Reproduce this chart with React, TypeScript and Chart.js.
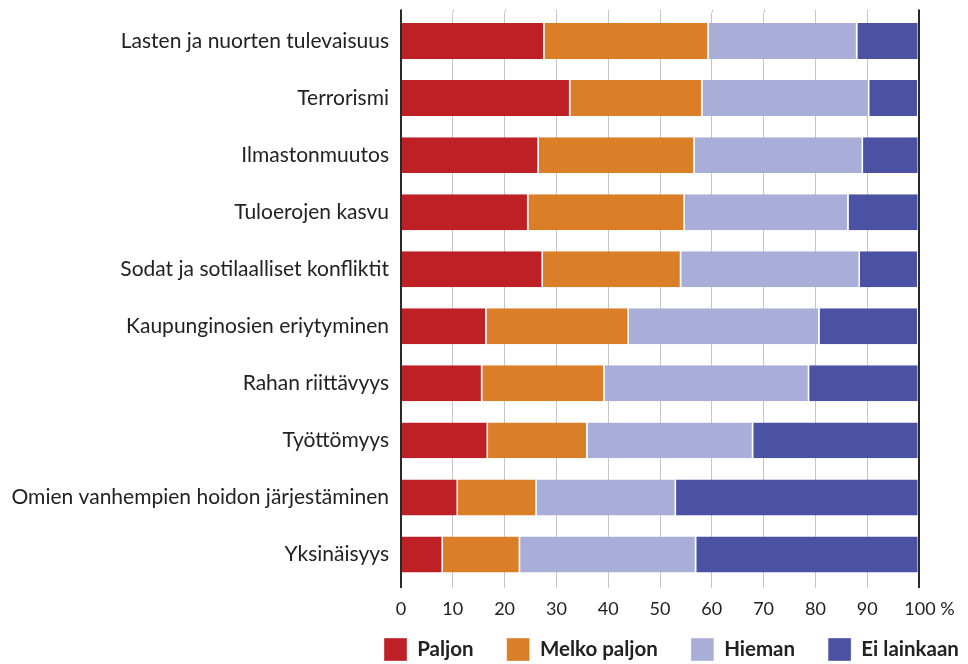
import { useEffect, useRef } from 'react';
import { Chart, registerables } from 'chart.js';

Chart.register(...registerables);

const categories = [
  'Lasten ja nuorten tulevaisuus',
  'Terrorismi',
  'Ilmastonmuutos',
  'Tuloerojen kasvu',
  'Sodat ja sotilaalliset konfliktit',
  'Kaupunginosien eriytyminen',
  'Rahan riittävyys',
  'Työttömyys',
  'Omien vanhempien hoidon järjestäminen',
  'Yksinäisyys',
];

const seriesNames = ['Paljon', 'Melko paljon', 'Hieman', 'Ei lainkaan'];

const paljon = [27.7, 32.7, 26.6, 24.6, 27.4, 16.5, 15.7, 16.8, 11.0, 8.1];
const melkoPaljon = [31.7, 25.5, 30.1, 30.2, 26.7, 27.5, 23.6, 19.2, 15.2, 14.9];
const hieman = [28.7, 32.2, 32.5, 31.6, 34.5, 36.8, 39.5, 32.0, 26.9, 34.0];
const eiLainkaan = [11.9, 9.5, 10.8, 13.6, 11.3, 19.1, 21.2, 32.0, 46.9, 43.0];

const xTicks = [0, 10, 20, 30, 40, 50, 60, 70, 80, 90, 100];

const colors = ['#BE2026', '#DA7E28', '#A9AED9', '#4B52A3'];

const FONT = 'Lato, "Open Sans", sans-serif';

const axisLines = {
  id: 'axisLines',
  beforeDatasetsDraw(chart: any) {
    const { ctx, chartArea } = chart;
    const xs = chart.scales.x;
    ctx.save();
    ctx.strokeStyle = '#c6c6c6';
    ctx.lineWidth = 1;
    xTicks.forEach((v) => {
      const px = Math.round(xs.getPixelForValue(v)) + 0.5;
      ctx.beginPath();
      ctx.moveTo(px, chartArea.top - 3);
      ctx.lineTo(px, chartArea.top);
      ctx.stroke();
    });
    ctx.restore();
  },
  afterDatasetsDraw(chart: any) {
    const { ctx, chartArea } = chart;
    const xs = chart.scales.x;
    ctx.save();
    ctx.strokeStyle = '#2a2a2a';
    ctx.lineWidth = 2;
    [xTicks[0], xTicks[xTicks.length - 1]].forEach((v) => {
      const px = xs.getPixelForValue(v);
      ctx.beginPath();
      ctx.moveTo(px, chartArea.top - 3);
      ctx.lineTo(px, chartArea.bottom + 5);
      ctx.stroke();
    });
    ctx.restore();
  },
};

const legendPlace = {
  id: 'legendPlace',
  afterLayout(chart: any) {
    const lg = chart.legend;
    if (!lg) return;
    const pad = lg.options.labels.padding;
    const w = lg.right - lg.left;
    lg.left = 384 - pad;
    lg.right = lg.left + w;
    lg.top = 638 - pad;
    lg.bottom = chart.height;
    lg.height = lg.bottom - lg.top;
  },
};

export default function App() {
  const ref = useRef<HTMLCanvasElement | null>(null);

  useEffect(() => {
    if (!ref.current) return;
    const data = [paljon, melkoPaljon, hieman, eiLainkaan];
    const chart = new Chart(ref.current, {
      type: 'bar',
      data: {
        labels: categories,
        datasets: seriesNames.map((name, i) => ({
          label: name,
          data: data[i],
          backgroundColor: colors[i],
          borderColor: '#ffffff',
          borderWidth: { top: 0, bottom: 0, left: 0, right: 1.5 },
          borderSkipped: false,
          categoryPercentage: 1,
          barPercentage: 0.63,
        })),
      },
      options: {
        indexAxis: 'y',
        responsive: false,
        animation: false,
        layout: { padding: { top: 12.5, right: 49, left: 0, bottom: 0 } },
        scales: {
          x: {
            stacked: true,
            min: 0,
            max: 100,
            afterBuildTicks(scale: any) {
              scale.ticks = xTicks.map((v) => ({ value: v }));
            },
            afterFit(scale: any) {
              scale.height = 61;
            },
            ticks: {
              autoSkip: false,
              maxRotation: 0,
              padding: 10,
              color: '#222',
              font: { family: FONT, size: 18 },
              callback: (v: any) =>
                Number(v) === 100 ? '\u2007\u2007100 %' : String(v),
            },
            grid: {
              color: '#c6c6c6',
              lineWidth: 1,
              drawTicks: true,
              tickLength: 5,
            },
            border: { display: false },
          },
          y: {
            stacked: true,
            afterFit(scale: any) {
              scale.width = 401;
              scale.paddingTop = 0;
              scale.paddingBottom = 0;
            },
            ticks: {
              padding: 12,
              color: '#222',
              font: { family: FONT, size: 21 },
            },
            grid: { display: false, drawTicks: false },
            border: { display: false },
          },
        },
        plugins: {
          legend: {
            position: 'bottom',
            align: 'start',
            maxHeight: 20,
            labels: {
              boxWidth: 23,
              boxHeight: 23,
              padding: 33,
              color: '#222',
              font: { family: FONT, size: 20.5, weight: 'bold' },
            },
          },
          tooltip: { enabled: false },
        },
      },
      plugins: [axisLines, legendPlace],
    });
    return () => chart.destroy();
  }, []);

  return (
    <div style={{ position: 'absolute', left: 0, top: 0, width: 968, height: 664 }}>
      <canvas ref={ref} width={968} height={664} />
    </div>
  );
}
